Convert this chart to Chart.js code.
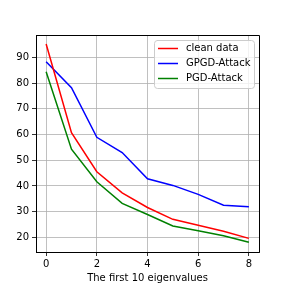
<!DOCTYPE html>
<html>
<head>
<meta charset="utf-8">
<script src="https://cdn.jsdelivr.net/npm/chart.js@4"></script>
<style>
  html, body { margin: 0; padding: 0; background: #fff; }
  canvas { display: block; }
</style>
</head>
<body>
<canvas id="chart" width="288" height="288"></canvas>
<script>
// eigenvalue index on the x axis
const eigenIdx = [0, 1, 2, 3, 4, 5, 6, 7, 8];
const cleanData = [95.2, 60.7, 45.5, 37.3, 31.6, 27.0, 24.7, 22.4, 19.6];
const gpgdAttack = [88.3, 78.2, 58.9, 53.0, 42.8, 40.2, 36.7, 32.5, 31.9];
const pgdAttack = [84.4, 54.3, 41.6, 33.2, 28.9, 24.4, 22.6, 20.6, 18.1];
const xTicks = [0, 2, 4, 6, 8];
const yTicks = [20, 30, 40, 50, 60, 70, 80, 90];

const FONT = "'DejaVu Sans', sans-serif";
Chart.defaults.font.family = FONT;
Chart.defaults.font.size = 10;
Chart.defaults.color = '#000';

function toPoints(vals) {
    return eigenIdx.map((x, i) => ({ x: x, y: vals[i] }));
}

// matplotlib style legend in the top right + frame on top/right
const mplLegend = {
    id: 'mplLegend',
    afterDraw(chart) {
        const ctx = chart.ctx;
        const a = chart.chartArea;
        ctx.save();
        // top and right spines
        ctx.strokeStyle = '#000';
        ctx.lineWidth = 1;
        ctx.beginPath();
        ctx.moveTo(a.left, a.top + 0.5);
        ctx.lineTo(a.right + 0.5, a.top + 0.5);
        ctx.lineTo(a.right + 0.5, a.bottom);
        ctx.stroke();

        // legend box
        const bx = 154, by = 40, bw = 100, bh = 48, r = 3;
        ctx.fillStyle = 'rgba(255,255,255,0.8)';
        ctx.strokeStyle = '#cccccc';
        ctx.beginPath();
        ctx.moveTo(bx + r, by + 0.5);
        ctx.arcTo(bx + bw + 0.5, by + 0.5, bx + bw + 0.5, by + bh, r);
        ctx.arcTo(bx + bw + 0.5, by + bh + 0.5, bx, by + bh + 0.5, r);
        ctx.arcTo(bx + 0.5, by + bh + 0.5, bx + 0.5, by, r);
        ctx.arcTo(bx + 0.5, by + 0.5, bx + bw, by + 0.5, r);
        ctx.closePath();
        ctx.fill();
        ctx.stroke();

        ctx.font = '10px ' + FONT;
        ctx.textBaseline = 'middle';
        ctx.textAlign = 'left';
        chart.data.datasets.forEach((ds, i) => {
            const y = 48.5 + i * 15;
            ctx.strokeStyle = ds.borderColor;
            ctx.lineWidth = 1.5;
            ctx.beginPath();
            ctx.moveTo(158, y);
            ctx.lineTo(178, y);
            ctx.stroke();
            ctx.fillStyle = '#000';
            ctx.fillText(ds.label, 186, y);
        });
        ctx.restore();
    }
};

new Chart(document.getElementById('chart').getContext('2d'), {
    type: 'line',
    data: {
        datasets: [
            { label: 'clean data', data: toPoints(cleanData), borderColor: '#ff0000' },
            { label: 'GPGD-Attack', data: toPoints(gpgdAttack), borderColor: '#0000ff' },
            { label: 'PGD-Attack', data: toPoints(pgdAttack), borderColor: '#008000' }
        ]
    },
    options: {
        responsive: false,
        animation: false,
        elements: {
            line: { borderWidth: 1.5, tension: 0 },
            point: { radius: 0 }
        },
        layout: { padding: { top: 35, right: 29, left: 0, bottom: 0 } },
        plugins: {
            legend: { display: false },
            tooltip: { enabled: false }
        },
        scales: {
            x: {
                type: 'linear',
                min: -0.4,
                max: 8.4,
                afterBuildTicks: scale => { scale.ticks = xTicks.map(v => ({ value: v })); },
                afterFit: scale => { scale.height = 36; },
                grid: { color: '#b0b0b0', lineWidth: 0.8, tickColor: '#000', tickLength: 4, drawOnChartArea: true },
                border: { display: true, color: '#000', width: 1 },
                ticks: { padding: 2, maxRotation: 0 },
                title: { display: true, text: 'The first 10 eigenvalues', padding: { top: 1, bottom: 4 } }
            },
            y: {
                min: 14.3,
                max: 98.7,
                afterBuildTicks: scale => { scale.ticks = yTicks.map(v => ({ value: v })); },
                afterFit: scale => { scale.width = 36; },
                grid: { color: '#b0b0b0', lineWidth: 0.8, tickColor: '#000', tickLength: 4 },
                border: { display: true, color: '#000', width: 1 },
                ticks: { padding: 3 }
            }
        }
    },
    plugins: [mplLegend]
});
</script>
</body>
</html>
